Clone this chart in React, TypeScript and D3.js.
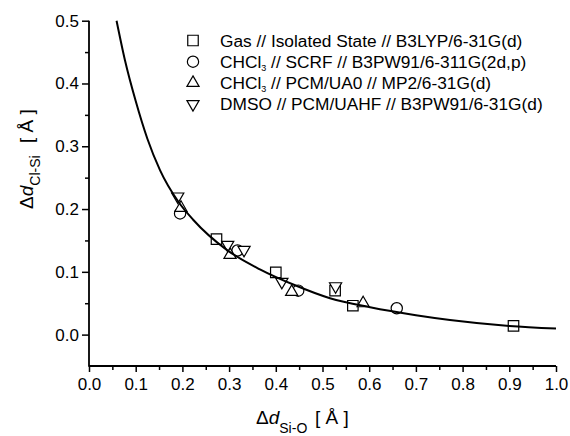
import React, { useRef, useEffect } from 'react'
import * as d3 from 'd3'

// series (x = Δd Si-O, y = Δd Cl-Si, Å)
const gasX = [0.273, 0.400, 0.527, 0.565, 0.909]
const gasY = [0.152, 0.099, 0.070, 0.046, 0.014]
const scrfX = [0.195, 0.318, 0.448, 0.659]
const scrfY = [0.193, 0.134, 0.070, 0.042]
const pcmX = [0.197, 0.302, 0.434, 0.587]
const pcmY = [0.202, 0.127, 0.068, 0.050]
const dmsoX = [0.190, 0.297, 0.332, 0.413, 0.528]
const dmsoY = [0.220, 0.143, 0.135, 0.084, 0.077]

// fitted curve
const fitX = [0.059, 0.077, 0.100, 0.125, 0.152, 0.191, 0.223, 0.295, 0.366, 0.440, 0.516, 0.602, 0.700, 0.773, 0.900, 1.000]
const fitY = [0.500, 0.437, 0.372, 0.312, 0.262, 0.212, 0.183, 0.135, 0.104, 0.079, 0.058, 0.0436, 0.031, 0.0234, 0.0139, 0.0096]

const xTicks = [0, 0.1, 0.2, 0.3, 0.4, 0.5, 0.6, 0.7, 0.8, 0.9, 1.0]
const xMinor = [0.05, 0.15, 0.25, 0.35, 0.45, 0.55, 0.65, 0.75, 0.85, 0.95]
const yTicks = [0, 0.1, 0.2, 0.3, 0.4, 0.5]
const yMinor = [0.05, 0.15, 0.25, 0.35, 0.45]

// legend text: odd entries are subscripts
const legendLabels = [
    ['Gas // Isolated State // B3LYP/6-31G(d)'],
    ['CHCl', '3', ' // SCRF // B3PW91/6-311G(2d,p)'],
    ['CHCl', '3', ' // PCM/UA0 // MP2/6-31G(d)'],
    ['DMSO // PCM/UAHF // B3PW91/6-31G(d)'],
]

const FONT = '"Liberation Sans", Arial, sans-serif'

export default function App() {
    const visEl = useRef<SVGSVGElement>(null)
    const width = 570
    const height = 436

    useEffect(() => {
        const svg = d3.select(visEl.current)
        svg.selectAll('*').remove()

        const x = d3.scaleLinear().domain([0, 1]).range([89, 556])
        const y = d3.scaleLinear().domain([-0.05, 0.5]).range([366, 20.7])

        const g = svg.append('g')

        // axes
        const yAxis = d3.axisLeft(y).tickValues(yTicks).tickSize(7).tickSizeOuter(0)
            .tickPadding(3).tickFormat(d3.format('.1f') as any)
        const yAxisG = g.append('g').attr('transform', `translate(${x(0)},0)`).call(yAxis)
        g.append('g').attr('transform', `translate(${x(0)},0)`)
            .call(d3.axisLeft(y).tickValues(yMinor).tickSize(4).tickSizeOuter(0).tickFormat(() => ''))
            .select('.domain').remove()

        const xAxis = d3.axisBottom(x).tickValues(xTicks).tickSize(6).tickSizeOuter(0)
            .tickPadding(6).tickFormat(d3.format('.1f') as any)
        const xAxisG = g.append('g').attr('transform', `translate(0,${y(-0.05)})`).call(xAxis)
        g.append('g').attr('transform', `translate(0,${y(-0.05)})`)
            .call(d3.axisBottom(x).tickValues(xMinor).tickSize(4).tickSizeOuter(0).tickFormat(() => ''))
            .select('.domain').remove()

        for (const a of [yAxisG, xAxisG]) {
            a.select('.domain').remove()
            a.selectAll('text').attr('font-family', FONT).attr('font-size', 17).attr('fill', '#000')
        }
        g.selectAll('.tick line').attr('stroke', '#000').attr('stroke-width', 1.5)

        g.append('line')
            .attr('x1', x(0)).attr('x2', x(0)).attr('y1', y(-0.05) + 0.75).attr('y2', y(0.5))
            .attr('stroke', '#000').attr('stroke-width', 1.8)
        g.append('line')
            .attr('x1', x(0)).attr('x2', x(1)).attr('y1', y(-0.05)).attr('y2', y(-0.05))
            .attr('stroke', '#000').attr('stroke-width', 1.8)

        // symbols
        const series = [
            { xs: gasX, ys: gasY, type: d3.symbolSquare, size: 110, rot: 0 },
            { xs: scrfX, ys: scrfY, type: d3.symbolCircle, size: 100, rot: 0 },
            { xs: pcmX, ys: pcmY, type: d3.symbolTriangle, size: 64, rot: 0 },
            { xs: dmsoX, ys: dmsoY, type: d3.symbolTriangle, size: 64, rot: 180 },
        ]
        series.forEach(s => {
            const path = d3.symbol().type(s.type).size(s.size)()
            g.append('g').selectAll('path').data(s.xs).enter().append('path')
                .attr('d', path)
                .attr('transform', (d, i) => `translate(${x(d)},${y(s.ys[i])}) rotate(${s.rot})`)
                .attr('fill', '#fff')
                .attr('stroke', '#000')
                .attr('stroke-width', 1.2)
        })

        // fit curve
        const line = d3.line<number>()
            .x(d => x(d))
            .y((d, i) => y(fitY[i]))
            .curve(d3.curveMonotoneX)
        g.append('path')
            .attr('d', line(fitX))
            .attr('fill', 'none')
            .attr('stroke', '#000')
            .attr('stroke-width', 2)

        // legend
        const lg = g.append('g')
        legendLabels.forEach((parts, i) => {
            const cy = 40.5 + i * 21.2
            const s = series[i]
            lg.append('path')
                .attr('d', d3.symbol().type(s.type).size(s.size)())
                .attr('transform', `translate(193,${cy}) rotate(${s.rot})`)
                .attr('fill', '#fff').attr('stroke', '#000').attr('stroke-width', 1.2)
            const t = lg.append('text')
                .attr('x', 220).attr('y', cy + 6)
                .attr('font-family', FONT).attr('font-size', 17.3)
            parts.forEach((p, j) => {
                if (j % 2 === 1) {
                    t.append('tspan').attr('dy', 3.5).attr('font-size', 9).text(p)
                } else {
                    t.append('tspan').attr('dy', j > 0 ? -3.5 : 0).text(p)
                }
            })
        })

        // axis titles
        const xt = g.append('text')
            .attr('x', 256).attr('y', 424)
            .attr('font-family', FONT).attr('font-size', 19)
        xt.append('tspan').text('Δ')
        xt.append('tspan').attr('font-style', 'italic').text('d')
        xt.append('tspan').attr('dy', 9).attr('font-size', 14).text('Si-O')
        xt.append('tspan').attr('dy', -9).attr('x', 315).text('[ Å ]')

        const yt = g.append('g').attr('transform', 'translate(33,209) rotate(-90)')
            .append('text')
            .attr('x', 0).attr('y', 0)
            .attr('font-family', FONT).attr('font-size', 19)
        yt.append('tspan').text('Δ')
        yt.append('tspan').attr('font-style', 'italic').text('d')
        yt.append('tspan').attr('dy', 7).attr('font-size', 14).text('Cl-Si')
        yt.append('tspan').attr('dy', -7).attr('x', 66).text('[ Å ]')
    }, [])

    return (
        <div style={{ position: 'absolute', left: 0, top: 0 }}>
            <svg ref={visEl} width={width} height={height} style={{ display: 'block', background: '#fff' }} />
        </div>
    )
}
